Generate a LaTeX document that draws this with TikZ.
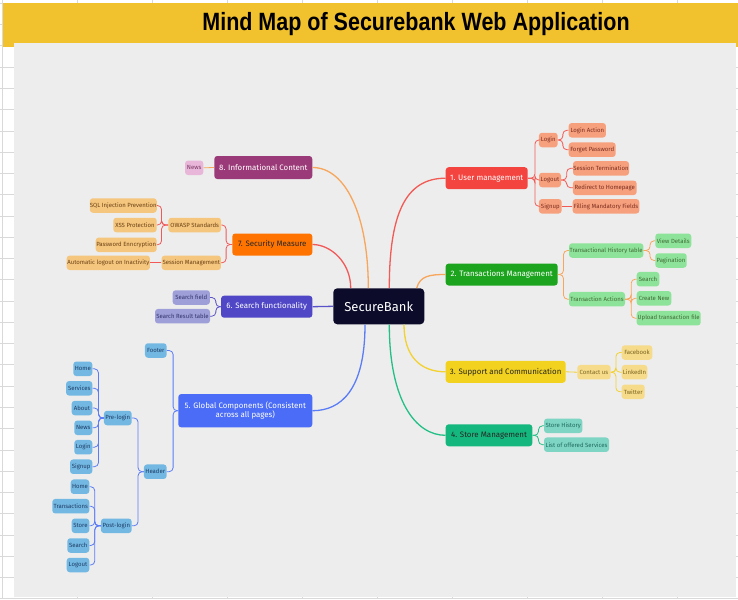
\documentclass[tikz,border=0pt]{standalone}
\usepackage{fontspec}
\setmainfont{Fira Sans}
\newfontfamily\titlefont[FakeStretch=0.86]{Liberation Sans}
\usetikzlibrary{calc}
\definecolor{gridc}{HTML}{D9D9D9}
\definecolor{band}{HTML}{F2C12E}
\definecolor{panel}{HTML}{EDEDED}
\definecolor{center}{HTML}{0C0B2A}
% branch colours
\definecolor{umF}{HTML}{F4443F}\definecolor{umS}{HTML}{F7A07E}\definecolor{umT}{HTML}{7A2D1E}\definecolor{umL}{HTML}{F25B55}
\definecolor{tmF}{HTML}{1DA41F}\definecolor{tmS}{HTML}{8EE39A}\definecolor{tmT}{HTML}{3F6B35}\definecolor{tmL}{HTML}{F8A65C}
\definecolor{scF}{HTML}{F2D21E}\definecolor{scS}{HTML}{F6DB8A}\definecolor{scT}{HTML}{7A6420}\definecolor{scL}{HTML}{F3D12E}
\definecolor{stF}{HTML}{14B87E}\definecolor{stS}{HTML}{7FD5C4}\definecolor{stT}{HTML}{1E6B5C}\definecolor{stL}{HTML}{22BF86}
\definecolor{gcF}{HTML}{4A6CF7}\definecolor{gcS}{HTML}{73B8E2}\definecolor{gcT}{HTML}{1D3D66}\definecolor{gcL}{HTML}{5B7CF7}
\definecolor{sfF}{HTML}{4F47C6}\definecolor{sfS}{HTML}{9E9FD8}\definecolor{sfT}{HTML}{33336E}\definecolor{sfL}{HTML}{5A52C9}
\definecolor{smF}{HTML}{FF7400}\definecolor{smS}{HTML}{F5C67E}\definecolor{smT}{HTML}{6B4214}\definecolor{smL}{HTML}{F25858}
\definecolor{icF}{HTML}{9B3A78}\definecolor{icS}{HTML}{E8B6D8}\definecolor{icT}{HTML}{7A3A66}\definecolor{icL}{HTML}{F7A65C}
\tikzset{
  basebox/.style={rounded corners=3pt, inner sep=0pt, align=center},
  subbox/.style 2 args={basebox, fill=#1, text=#2, minimum height=14.5pt, font=\fontsize{6}{7}\selectfont},
  mainbox/.style 2 args={basebox, fill=#1, text=#2, minimum height=22pt, font=\fontsize{7.9}{9.4}\selectfont},
  conn/.style={draw=#1, line width=0.8pt, rounded corners=4pt},
  branch/.style={draw=#1, line width=1.3pt},
}
\begin{document}
\begin{tikzpicture}[x=1pt,y=-1pt]
\useasboundingbox (0,0) rectangle (738,599);
% sheet background with grid
\fill[white] (0,0) rectangle (738,599);
\foreach \k in {0,...,9} \draw[gridc, line width=0.8pt] (2.5+75*\k,0) -- (2.5+75*\k,599);
\foreach \k in {0,...,28} \draw[gridc, line width=0.8pt] (0,3.3+21.27*\k) -- (738,3.3+21.27*\k);
\fill[band] (2.5,3.3) rectangle (738,46.7);
\fill[panel] (14,43) rectangle (736,597);
\node[font=\titlefont\bfseries\fontsize{25}{28}\selectfont, inner sep=0pt] (title) at (416,24) {Mind Map of Securebank Web Application};

% center
\node[basebox, rounded corners=4pt, fill=center, text=white, minimum width=91pt, minimum height=36pt, font=\fontsize{13}{15}\selectfont] (sb) at (378.8,306.3) {SecureBank};

% main nodes
\node[mainbox={umF}{white}, minimum width=82pt] (um) at (486.7,178.2) {1. User management};
\node[mainbox={tmF}{white}, minimum width=112pt] (tm) at (501.7,274.5) {2. Transactions Management};
\node[mainbox={scF}{black!85}, minimum width=120pt] (sc) at (505.7,371.8) {3. Support and Communication};
\node[mainbox={stF}{black!85}, minimum width=86.6pt] (st) at (489,435.3) {4. Store Management};
\node[mainbox={gcF}{white}, minimum width=134pt, minimum height=33.3pt] (gc) at (245.3,410.7) {5. Global Components (Consistent\\across all pages)};
\node[mainbox={sfF}{white}, minimum width=91.3pt] (sf) at (266.7,306.7) {6. Search functionality};
\node[mainbox={smF}{black!85}, minimum width=80pt] (sm) at (272.3,244.5) {7. Security Measure};
\node[mainbox={icF}{white}, minimum width=98pt, minimum height=23pt] (ic) at (263.3,167.5) {8. Informational Content};

% main branches
\draw[branch=umL] ($(sb.north)+(10.5,0)$) .. controls +(0,-73) and +(-40.7,0) .. (um.west);
\draw[branch=tmL] ($(sb.north)+(37.9,0)$) .. controls +(3.3,-12.3) and +(-15.7,0) .. (tm.west);
\draw[branch=scL] ($(sb.south)+(25.2,0)$) .. controls +(0,31) and +(-26,0) .. (sc.west);
\draw[branch=stL] ($(sb.south)+(10.5,0)$) .. controls +(0,76) and +(-30,0) .. (st.west);
\draw[branch=gcL] ($(sb.south)+(-13.8,0)$) .. controls +(0,66) and +(28,0) .. (gc.east);
\draw[branch=sfL] (sf.east) -- (sb.west);
\draw[branch=smL] ($(sb.north)+(-28.1,0)$) .. controls +(0,-26) and +(18,0) .. (sm.east);
\draw[branch=icL] ($(sb.north)+(-10.5,0)$) .. controls +(0,-73) and +(33,0) .. (ic.east);

% 1. user management
\node[subbox={umS}{umT}, minimum width=18.7pt] (login) at (548.3,140) {Login};
\node[subbox={umS}{umT}, minimum width=37.3pt] (loginact) at (587.3,130.3) {Login Action};
\node[subbox={umS}{umT}, minimum width=47pt] (forget) at (592.2,149.7) {Forget Password};
\node[subbox={umS}{umT}, minimum width=22pt] (logout) at (550,180) {Logout};
\node[subbox={umS}{umT}, minimum width=56pt] (sessterm) at (601,168.3) {Session Termination};
\node[subbox={umS}{umT}, minimum width=63.7pt] (redirect) at (604.8,187.8) {Redirect to Homepage};
\node[subbox={umS}{umT}, minimum width=22.7pt] (signup) at (550.3,206.3) {Signup};
\node[subbox={umS}{umT}, minimum width=66.7pt] (filling) at (606,206.3) {Filling Mandatory Fields};
\foreach \c in {login,logout,signup} \draw[conn=umL] (um.east) -- ++(7,0) |- (\c.west);
\foreach \c in {loginact,forget} \draw[conn=umL] (login.east) -- ++(5,0) |- (\c.west);
\foreach \c in {sessterm,redirect} \draw[conn=umL] (logout.east) -- ++(5.5,0) |- (\c.west);
\draw[conn=umL] (signup.east) -- (filling.west);

% 2. transactions
\node[subbox={tmS}{tmT}, minimum width=74.3pt] (thist) at (606.2,250.5) {Transactional History table};
\node[subbox={tmS}{tmT}, minimum width=36pt] (viewdet) at (673.3,240.8) {View Details};
\node[subbox={tmS}{tmT}, minimum width=31.4pt] (pagin) at (671,260.5) {Pagination};
\node[subbox={tmS}{tmT}, minimum width=56pt] (tact) at (597,299.2) {Transaction Actions};
\node[subbox={tmS}{tmT}, minimum width=22.6pt] (tsearch) at (648,279.2) {Search};
\node[subbox={tmS}{tmT}, minimum width=34.6pt] (create) at (654,298.3) {Create New};
\node[subbox={tmS}{tmT}, minimum width=64pt] (upload) at (668.7,318.2) {Upload transaction file};
\foreach \c in {thist,tact} \draw[conn=tmL] (tm.east) -- ++(5.6,0) |- (\c.west);
\foreach \c in {viewdet,pagin} \draw[conn=tmL] (thist.east) -- ++(6.5,0) |- (\c.west);
\foreach \c in {tsearch,create,upload} \draw[conn=tmL] (tact.east) -- ++(6,0) |- (\c.west);

% 3. support
\node[subbox={scS}{scT}, minimum width=33.4pt] (contact) at (594,372.2) {Contact us};
\node[subbox={scS}{scT}, minimum width=30.6pt] (fb) at (637,352.5) {Facebook};
\node[subbox={scS}{scT}, minimum width=25.6pt] (li) at (634.5,372.2) {LinkedIn};
\node[subbox={scS}{scT}, minimum width=23pt] (tw) at (633.2,391.8) {Twitter};
\draw[conn=scL] (sc.east) -- (contact.west);
\foreach \c in {fb,li,tw} \draw[conn=scL] (contact.east) -- ++(5,0) |- (\c.west);

% 4. store
\node[subbox={stS}{stT}, minimum width=38.3pt] (sthist) at (563.2,425.8) {Store History};
\node[subbox={stS}{stT}, minimum width=65pt] (list) at (576.5,444.7) {List of offered Services};
\foreach \c in {sthist,list} \draw[conn=stL] (st.east) -- ++(6,0) |- (\c.west);

% 8. informational
\node[subbox={icS}{icT}, minimum width=18.3pt] (news) at (194.2,167.8) {News};
\draw[conn=icL] (ic.west) -- (news.east);

% 7. security
\node[subbox={smS}{smT}, minimum width=52.7pt] (owasp) at (194.7,225) {OWASP Standards};
\node[subbox={smS}{smT}, minimum width=59.3pt] (sessm) at (191.3,262.8) {Session Management};
\node[subbox={smS}{smT}, minimum width=66.7pt] (sql) at (123.3,205.5) {SQL Injection Prevention};
\node[subbox={smS}{smT}, minimum width=43.4pt] (xss) at (135,225) {XSS Protection};
\node[subbox={smS}{smT}, minimum width=61pt] (pwd) at (126.2,244.8) {Password Enncryption};
\node[subbox={smS}{smT}, minimum width=83.3pt] (auto) at (108.3,262.8) {Automatic logout on Inactivity};
\foreach \c in {owasp,sessm} \draw[conn=smL] (sm.west) -- ++(-6,0) |- (\c.east);
\foreach \c in {sql,xss,pwd} \draw[conn=smL] (owasp.west) -- ++(-6.6,0) |- (\c.east);
\draw[conn=smL] (sessm.west) -- (auto.east);

% 6. search
\node[subbox={sfS}{sfT}, minimum width=37.3pt] (sfield) at (191.3,297.5) {Search field};
\node[subbox={sfS}{sfT}, minimum width=55pt] (sres) at (182.5,316.2) {Search Result table};
\foreach \c in {sfield,sres} \draw[conn=sfL] (sf.west) -- ++(-5,0) |- (\c.east);

% 5. global components
\node[subbox={gcS}{gcT}, minimum width=21.7pt] (footer) at (155.8,350.5) {Footer};
\node[subbox={gcS}{gcT}, minimum width=22.7pt] (header) at (155.3,471.7) {Header};
\node[subbox={gcS}{gcT}, minimum width=27.7pt] (prelogin) at (117.8,418) {Pre-login};
\node[subbox={gcS}{gcT}, minimum width=30.7pt] (postlogin) at (116.3,525.8) {Post-login};
\node[subbox={gcS}{gcT}, minimum width=19pt] (home1) at (82.8,368.8) {Home};
\node[subbox={gcS}{gcT}, minimum width=26.3pt] (services) at (79.2,388.3) {Services};
\node[subbox={gcS}{gcT}, minimum width=20.6pt] (about) at (82,408) {About};
\node[subbox={gcS}{gcT}, minimum width=18pt] (news2) at (83.3,427.8) {News};
\node[subbox={gcS}{gcT}, minimum width=18pt] (login2) at (83.3,447.2) {Login};
\node[subbox={gcS}{gcT}, minimum width=22.3pt] (signup2) at (81.2,466.7) {Signup};
\node[subbox={gcS}{gcT}, minimum width=18.6pt] (home2) at (80,486.7) {Home};
\node[subbox={gcS}{gcT}, minimum width=37pt] (trans2) at (70.8,506.2) {Transactions};
\node[subbox={gcS}{gcT}, minimum width=17.6pt] (store2) at (80.5,525.8) {Store};
\node[subbox={gcS}{gcT}, minimum width=22pt] (search2) at (78.3,545.5) {Search};
\node[subbox={gcS}{gcT}, minimum width=22.6pt] (logout2) at (78,565) {Logout};
\foreach \c in {footer,header} \draw[conn=gcL] (gc.west) -- ++(-5,0) |- (\c.east);
\foreach \c in {prelogin,postlogin} \draw[conn=gcL] (header.west) -- ++(-5.7,0) |- (\c.east);
\foreach \c in {home1,services,about,news2,login2,signup2} \draw[conn=gcL] (prelogin.west) -- ++(-5.3,0) |- (\c.east);
\foreach \c in {home2,trans2,store2,search2,logout2} \draw[conn=gcL] (postlogin.west) -- ++(-6,0) |- (\c.east);
\end{tikzpicture}
\end{document}
